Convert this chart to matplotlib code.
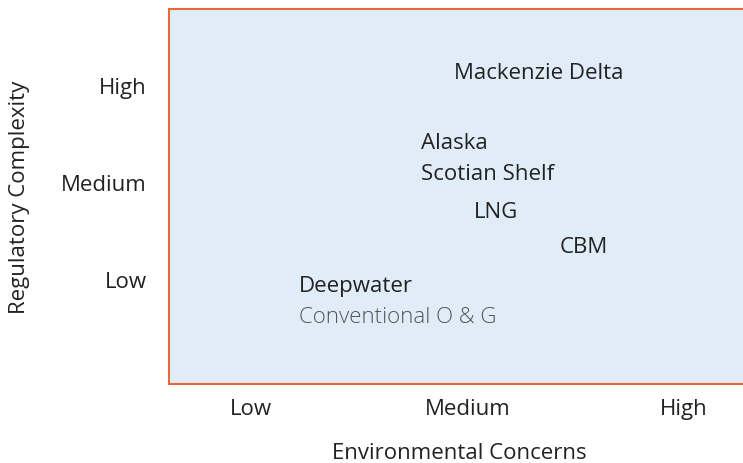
import matplotlib
matplotlib.use("Agg")
import matplotlib.pyplot as plt

labels = ["Mackenzie Delta", "Alaska", "Scotian Shelf", "LNG", "CBM", "Deepwater", "Conventional O & G"]
env_x = [1.94, 1.785, 1.785, 2.03, 2.425, 1.22, 1.22]
reg_y = [3.13, 2.41, 2.09, 1.70, 1.34, 0.93, 0.61]
light = [False, False, False, False, False, False, True]
tick_labels = ["Low", "Medium", "High"]
tick_vals = [1, 2, 3]

plt.rcParams['font.family'] = ['Open Sans', 'DejaVu Sans']
fig = plt.figure(figsize=(7.43, 4.64), dpi=100)
ax = fig.add_axes([169/743, 1 - 385/464, 1 - 169/743 + 0.01, 375/464])
ax.set_facecolor("#e0ecf8")
ax.set_xlim(0.62, 3.31)
ax.set_ylim(-0.08, 3.78)
for s in ["left", "top", "bottom"]:
    ax.spines[s].set_color("#e8683a")
    ax.spines[s].set_linewidth(1.5)
ax.spines["right"].set_visible(False)

FS = 16
ax.set_xticks(tick_vals)
ax.set_xticklabels(tick_labels)
ax.set_yticks(tick_vals)
ax.set_yticklabels(tick_labels)
ax.tick_params(length=0, labelsize=FS, colors="#222222")
ax.tick_params(axis="x", pad=10)
ax.tick_params(axis="y", pad=16)

for lab, x, y, lt in zip(labels, env_x, reg_y, light):
    ax.text(x, y, lab, ha="left", va="center", fontsize=FS,
            color="#555555" if lt else "#222222",
            fontweight="light" if lt else "normal")

ax.set_xlabel("Environmental Concerns", fontsize=FS, color="#222222", labelpad=17)
ax.set_ylabel("Regulatory Complexity", fontsize=FS, color="#222222", labelpad=22)

fig.savefig("out.png", dpi=100)
